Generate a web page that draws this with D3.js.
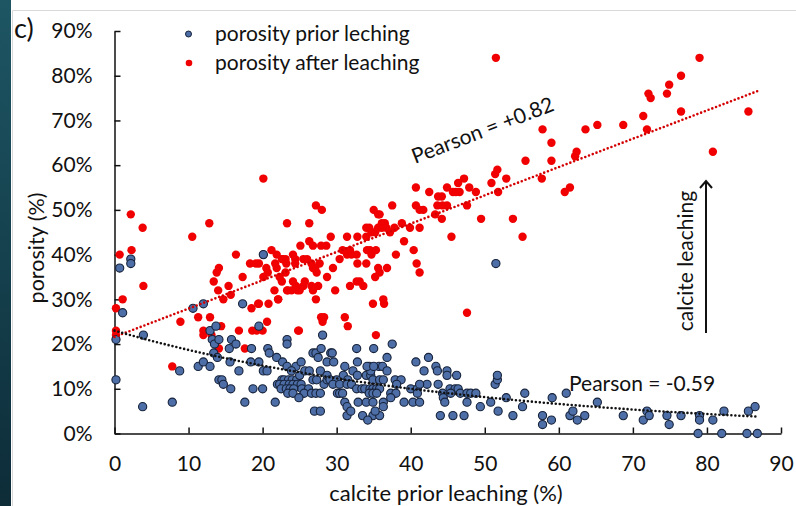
<!DOCTYPE html>
<html>
<head>
<meta charset="utf-8">
<script src="https://cdn.jsdelivr.net/npm/d3@7"></script>
<style>
  body { margin: 0; background: #fff; }
  svg { display: block; }
  text { font-family: Lato, "Open Sans", sans-serif; fill: #111; }
</style>
</head>
<body>
<svg id="chart" width="796" height="506"></svg>
<script>
// Tick values for both axes
const xTickValues = [0, 10, 20, 30, 40, 50, 60, 70, 80, 90];
const yTickValues = [0, 10, 20, 30, 40, 50, 60, 70, 80, 90];

// Samples: [calcite prior leaching (%), porosity (%)]
const priorLeaching = [
  [0.2,12],[0.7,37],[2.2,39],[2.2,38],[1.1,27],[3.9,22],[0.2,21],[3.8,6],[7.8,7],[8.8,14],
  [10.6,28],[11.3,15],[12.0,29],[12.0,16],[12.9,15],[12.9,23],[13.2,21],[13.5,20],[13.4,18],[13.7,24],
  [13.9,17],[14.1,21],[14.1,12],[14.5,12],[14.7,11],[15.5,19],[15.8,21],[15.6,16],[15.7,10],[16.4,20],
  [16.8,14],[17.3,29],[17.6,7],[18.5,19],[18.4,16],[18.7,10],[19.5,24],[19.5,16],[20.1,40],[20.0,10],
  [20.1,14],[20.6,14],[20.7,19],[20.9,18],[21.7,7],[21.9,17],[22.7,16],[23.3,21],[23.3,20],[22.6,12],
  [22.9,12],[23.5,12],[24.0,12],[24.6,12],[22.0,11],[22.3,11],[22.9,11],[23.6,11],[24.1,11],[24.7,11],
  [25.2,11],[22.5,10],[23.2,10],[23.7,10],[24.2,10],[25.3,10],[26.2,10],[23.4,9],[24.1,9],[25.6,9],
  [26.6,9],[27.2,9],[27.8,9],[24.9,8],[27.0,5],[27.8,5],[24.5,15],[25.2,16],[25.0,13],[25.7,14],
  [26.3,14],[26.8,18],[27.2,18],[27.5,17],[27.9,19],[28.1,22],[28.7,16],[29.2,18],[26.8,12],[27.3,12],
  [28.3,11],[28.7,12],[29.6,16],[27.8,14],[28.7,13],[23.3,15],[23.9,14],[30.1,9],[30.4,9],[30.8,9],
  [31.1,7],[31.4,6],[31.4,4],[31.9,5],[29.4,18],[32.7,19],[35.0,19],[37.5,20],[36.8,17],[35.7,15],
  [34.4,15],[31.1,15],[32.2,14],[34.0,13],[34.6,13],[30.9,13],[29.1,12],[30.0,12],[31.5,12],[34.9,12],
  [35.8,12],[36.3,12],[37.9,12],[38.7,12],[29.5,11],[30.4,11],[31.4,11],[32.0,11],[32.7,10],[33.4,10],
  [33.8,10],[34.5,10],[34.9,10],[35.4,10],[35.8,10],[34.4,9],[34.9,9],[35.4,9],[37.3,9],[38.0,9],
  [32.9,7],[34.0,7],[34.9,7],[36.3,7],[39.1,7],[33.5,4],[34.9,4],[35.8,4],[34.2,3],[35.2,5],
  [36.3,6],[37.3,8],[38.1,11],[32.8,13],[34.6,14],[36.2,15],[36.8,14],[32.8,16],[34.1,15],[35.0,15],
  [40.7,16],[42.4,17],[41.8,14],[43.4,15],[43.6,14],[44.9,14],[44.9,13],[46.2,13],[40.3,7],[41.2,7],
  [42.2,11],[44.0,4],[45.7,4],[47.2,4],[40.0,10],[40.9,10],[41.2,11],[40.9,9],[43.7,11],[44.3,9],
  [44.4,8],[44.6,7],[45.3,10],[46.0,10],[46.4,10],[45.4,9],[46.7,9],[47.6,9],[48.1,9],[48.8,9],
  [47.6,7],[49.4,6],[50.8,7],[51.4,11],[51.7,12],[51.7,13],[51.8,5],[52.9,8],[53.8,4],[55.1,6],
  [55.4,9],[57.8,4],[57.8,2],[59.0,3],[59.1,8],[61.0,9],[61.5,4],[61.9,5],[62.5,3],[63.5,4],
  [65.2,7],[68.7,4],[71.4,3],[71.9,5],[72.2,4],[74.6,4],[74.9,2],[76.5,4],[79.0,4],[79.0,3],
  [78.8,0],[80.8,3],[82.0,0],[82.3,5],[85.4,0],[86.8,0],[85.6,5],[86.5,6],[51.5,38]
];

const afterLeaching = [
  [20.1,57],[2.2,49],[3.8,46],[12.8,47],[23.3,47],[10.5,44],[0.7,40],[2.3,41],[20.1,40],[3.9,33],
  [1.1,30],[0.2,28],[0.2,23],[0.2,22],[16.4,40],[18.3,38],[19.5,38],[21.9,40],[22.7,39],[23.2,38],
  [24.1,40],[24.4,39],[20.5,37],[20.7,36],[14.1,37],[13.8,36],[13.4,34],[17.3,35],[20.1,35],[22.3,35],
  [23.1,36],[14.0,32],[15.4,33],[15.7,31],[14.7,30],[21.6,32],[22.1,30],[23.4,32],[24.1,34],[24.7,32],
  [18.5,28],[19.5,29],[11.3,26],[12.9,26],[8.9,25],[12.0,23],[12.0,22],[13.1,22],[14.4,24],[18.6,23],
  [20.0,23],[20.6,25],[14.1,19],[17.6,19],[7.8,15],[24.8,23],[16.8,23],
  [40.7,55],[44.9,55],[42.5,54],[43.7,53],[44.2,53],[43.6,51],[44.3,51],[44.9,51],[27.2,51],[28.0,50],
  [37.5,51],[40.7,51],[41.7,50],[35.0,50],[35.6,49],[43.3,49],[44.2,48],[26.3,47],[34.0,46],[34.4,46],
  [34.7,45],[35.2,45],[35.6,46],[36.1,47],[36.5,47],[36.7,46],[37.2,45],[37.8,46],[38.8,47],[39.9,46],
  [41.2,46],[40.4,41],[40.8,38],[41.2,36],[38.0,40],[39.1,43],[26.3,43],[26.8,42],[27.9,42],[28.6,42],
  [29.2,44],[31.4,44],[32.8,44],[34.0,44],[25.1,42],[23.1,39],[21.2,41],[19.1,38],[21.7,38],[21.9,37],
  [22.6,39],[24.4,38],[25.5,39],[26.0,39],[26.6,38],[26.8,37],[27.1,37],[27.3,36],[27.7,38],[28.7,35],
  [29.5,37],[30.4,39],[30.8,41],[31.4,40],[31.8,41],[32.0,40],[32.7,40],[32.8,38],[34.0,38],[34.1,41],
  [34.5,41],[34.7,40],[35.3,41],[35.6,37],[35.8,36],[36.8,37],[35.2,35],[22.6,34],[23.3,32],[23.9,32],
  [24.5,33],[25.0,32],[25.5,33],[25.7,34],[26.6,33],[26.8,32],[27.5,33],[29.8,32],[31.8,33],[32.7,34],
  [33.1,34],[33.6,33],[19.4,29],[20.8,29],[19.2,23],[22.1,30],[27.2,30],[27.9,26],[28.3,26],[28.1,25],
  [31.1,26],[31.5,24],[24.9,23],[34.9,29],[36.3,30],[36.4,29],[35.3,22],[47.6,27],
  [51.5,84],[57.8,68],[59.0,65],[55.5,61],[59.0,61],[62.2,62],[62.4,63],[51.7,59],[51.4,58],[52.9,57],
  [57.7,57],[60.8,54],[61.5,55],[50.9,56],[51.8,54],[48.8,54],[47.9,55],[47.2,57],[46.4,56],[45.7,54],
  [46.1,54],[46.6,54],[41.2,50],[47.6,51],[49.5,48],[53.8,48],[55.1,44],[45.5,44],[35.8,49],[36.1,46],
  [79.0,84],[76.5,80],[74.9,78],[74.6,76],[72.1,76],[72.4,75],[71.4,71],[76.5,72],[85.6,72],[71.9,68],
  [68.7,69],[65.2,69],[63.6,68],[80.8,63]
];

// Trendline fits and their labels
const afterTrend = { intercept: 21.6, slope: 0.633, label: "Pearson = +0.82" };
const priorTrend = { a: 23.0, k: -0.0208, label: "Pearson = -0.59" };
const trendSpan = [0, 86.8];

const FONT = 21;
const svg = d3.select("#chart");

// Framed panel: dark strip on the left edge and a thin grey border
const defs = svg.append("defs");
const grad = defs.append("linearGradient").attr("id", "strip")
  .attr("x1", 0).attr("y1", 0).attr("x2", 0).attr("y2", 1);
grad.append("stop").attr("offset", "0%").attr("stop-color", "#1e5664");
grad.append("stop").attr("offset", "100%").attr("stop-color", "#0d2c38");
svg.append("rect").attr("x", 0).attr("y", 0).attr("width", 11).attr("height", 506).attr("fill", "url(#strip)");
svg.append("path").attr("d", "M12.5,506V10.5H796").attr("fill", "none").attr("stroke", "#d9d9d9").attr("stroke-width", 1);

const x = d3.scaleLinear().domain([0, 90]).range([114.5, 781]);
const y = d3.scaleLinear().domain([0, 90]).range([433.5, 31]);

// Axes with ticks pointing into the plot
const xAxis = svg.append("g").attr("transform", `translate(0,${y(0)})`)
  .call(d3.axisBottom(x).tickValues(xTickValues).tickSizeInner(-6).tickSizeOuter(0).tickPadding(22.5));
const yAxis = svg.append("g").attr("transform", `translate(${x(0)},0)`)
  .call(d3.axisLeft(y).tickValues(yTickValues).tickSizeInner(-6).tickSizeOuter(0).tickPadding(22)
    .tickFormat(d => d + "%"));
[xAxis, yAxis].forEach(g => {
  g.select(".domain").attr("stroke", "#111").attr("stroke-width", 1.5);
  g.selectAll(".tick line").attr("stroke", "#111").attr("stroke-width", 1.5);
  g.selectAll(".tick text").attr("font-size", FONT).attr("fill", "#111")
    .style("font-family", "Lato, 'Open Sans', sans-serif");
});

// Scatter points
svg.append("g").selectAll("circle").data(afterLeaching).join("circle")
  .attr("cx", d => x(d[0])).attr("cy", d => y(d[1])).attr("r", 4.2)
  .attr("fill", "#f00000");
svg.append("g").selectAll("circle").data(priorLeaching).join("circle")
  .attr("cx", d => x(d[0])).attr("cy", d => y(d[1])).attr("r", 4.1)
  .attr("fill", "#4d6ea6").attr("stroke", "#17233b").attr("stroke-width", 1.1);

// Trendlines (dotted)
const trendXs = d3.range(trendSpan[0], trendSpan[1], 0.5).concat([trendSpan[1]]);
const line = d3.line().x(d => x(d[0])).y(d => y(d[1]));
svg.append("path")
  .attr("d", line(trendXs.map(v => [v, afterTrend.intercept + afterTrend.slope * v])))
  .attr("fill", "none").attr("stroke", "#d40000").attr("stroke-width", 2.6)
  .attr("stroke-linecap", "round").attr("stroke-dasharray", "0 4");
svg.append("path")
  .attr("d", line(trendXs.map(v => [v, priorTrend.a * Math.exp(priorTrend.k * v)])))
  .attr("fill", "none").attr("stroke", "#111").attr("stroke-width", 2.6)
  .attr("stroke-linecap", "round").attr("stroke-dasharray", "0 4");

// Panel letter
svg.append("text").attr("x", 14).attr("y", 38).attr("font-size", 27).text("c)");

// Axis titles
svg.append("text").attr("x", 446).attr("y", 501).attr("text-anchor", "middle")
  .attr("font-size", 22).text("calcite prior leaching (%)");
svg.append("text").attr("transform", "translate(44,248) rotate(-90)").attr("text-anchor", "middle")
  .attr("font-size", 21.5).text("porosity (%)");

// Legend
const legend = svg.append("g");
legend.append("circle").attr("cx", 188.5).attr("cy", 34).attr("r", 3)
  .attr("fill", "#4d6ea6").attr("stroke", "#17233b").attr("stroke-width", 1);
legend.append("circle").attr("cx", 189).attr("cy", 63).attr("r", 3.3).attr("fill", "#f00000");
legend.append("text").attr("x", 215).attr("y", 41).attr("font-size", FONT).text("porosity prior leching");
legend.append("text").attr("x", 215).attr("y", 70).attr("font-size", FONT).text("porosity after leaching");

// Correlation labels
svg.append("text").attr("transform", "translate(415,164) rotate(-21)")
  .attr("font-size", FONT).text(afterTrend.label);
svg.append("text").attr("x", 569).attr("y", 391).attr("font-size", FONT).text(priorTrend.label);

// Leaching arrow with label
svg.append("text").attr("transform", "translate(693,261) rotate(-90)").attr("text-anchor", "middle")
  .attr("font-size", FONT).text("calcite leaching");
svg.append("line").attr("x1", 706).attr("y1", 333).attr("x2", 706).attr("y2", 181)
  .attr("stroke", "#111").attr("stroke-width", 2);
svg.append("path").attr("d", "M700,188L706,181L712,188").attr("fill", "none")
  .attr("stroke", "#111").attr("stroke-width", 2).attr("stroke-linejoin", "miter");
</script>
</body>
</html>
